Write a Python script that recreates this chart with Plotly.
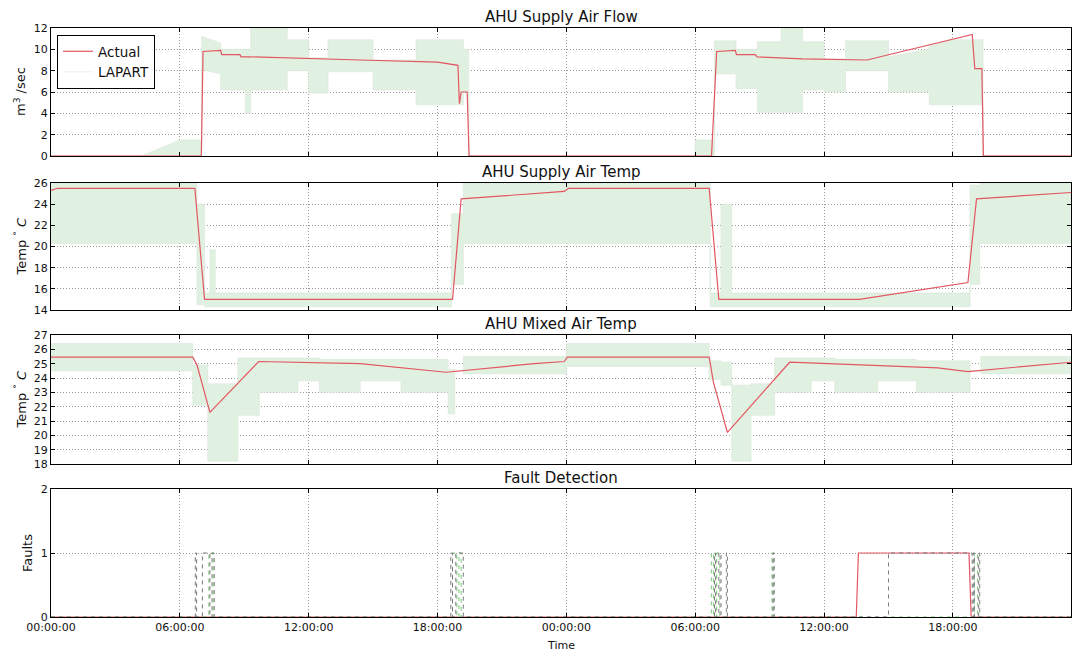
import plotly.graph_objects as go

# ---------------------------------------------------------------- data
# time in hours from the first midnight
x_end = 47.5
tick_hours = [0, 6, 12, 18, 24, 30, 36, 42]
tick_labels = ["00:00:00", "06:00:00", "12:00:00", "18:00:00",
               "00:00:00", "06:00:00", "12:00:00", "18:00:00"]

# AHU supply air flow (m3/sec)
flow_t = [0, 7.0, 7.08, 7.9, 7.95, 8.8, 8.85, 9.2, 14.4, 18.0, 18.95, 19.02, 19.1, 19.38, 19.47,
          30.76, 31.0, 31.87, 31.92, 32.8, 32.88, 33.9, 35.0, 38.0, 42.9, 43.02, 43.35, 43.42, 47.5]
flow_v = [0, 0, 9.8, 9.9, 9.5, 9.5, 9.3, 9.3, 9.0, 8.8, 8.5, 4.9, 6.0, 6.0, 0,
          0, 9.8, 9.9, 9.5, 9.5, 9.3, 9.2, 9.1, 9.0, 11.4, 8.2, 8.2, 0, 0]

# LAPART envelope for supply air flow
flow_band_t = [0, 4.2, 6.0, 7.02, 7.02, 7.9, 7.9, 9.05, 9.05, 9.3, 9.3, 11.0, 11.0, 12.0, 12.0,
               12.9, 12.9, 15.0, 15.0, 17.0, 17.0, 19.2, 19.2, 19.45, 19.45, 30.0, 30.0, 30.9,
               30.9, 31.9, 31.9, 32.9, 32.9, 34.0, 34.0, 35.0, 35.0, 36.0, 36.0, 37.0, 37.0,
               39.0, 39.0, 40.9, 40.9, 42.0, 43.4, 43.4, 47.5]
flow_band_lo = [0, 0, 0, 0, 8.1, 7.7, 6.2, 6.2, 4.0, 4.0, 6.2, 6.2, 8.0, 8.0, 5.9,
                5.9, 7.9, 7.9, 6.2, 6.2, 4.8, 4.8, 6.0, 6.0, 0, 0, 0, 0,
                7.7, 7.7, 6.3, 6.3, 4.1, 4.1, 4.1, 4.1, 6.2, 6.2, 6.0, 6.0, 8.0,
                8.0, 6.0, 6.0, 4.8, 4.8, 4.8, 0, 0]
flow_band_hi = [0, 0, 1.5, 1.5, 11.2, 10.6, 10.0, 10.0, 10.0, 10.0, 12.0, 12.0, 10.9, 10.9, 9.2,
                9.2, 10.9, 10.9, 9.0, 9.0, 10.9, 10.9, 10.0, 10.0, 0, 0, 1.5, 1.5,
                10.8, 10.8, 10.0, 10.0, 10.7, 10.7, 12.0, 12.0, 10.7, 10.7, 9.1, 9.1, 10.8,
                10.8, 9.3, 10.0, 10.3, 10.9, 10.9, 0, 0]

# AHU supply air temperature (deg C)
sat_t = [0, 0.3, 6.7, 7.15, 18.7, 19.1, 23.9, 24.1, 30.65, 31.1, 37.65, 42.7, 43.1, 47.5]
sat_v = [25.3, 25.5, 25.5, 15.0, 15.0, 24.5, 25.2, 25.5, 25.5, 15.0, 15.0, 16.6, 24.5, 25.1]

# LAPART envelope for supply air temperature, as piecewise-constant segments
sat_band_edges = [0, 6.8, 7.15, 7.4, 7.65, 18.65, 19.2, 30.7, 31.2, 31.7, 42.8, 43.25, 47.5]
sat_band_lo = [20.3, 14.5, 14.3, 14.3, 14.3, 16.4, 20.3, 14.3, 14.3, 14.3, 16.4, 20.3]
sat_band_hi = [26.0, 24.0, 15.6, 19.7, 15.6, 23.1, 26.0, 15.6, 24.0, 15.6, 25.8, 26.0]

# AHU mixed air temperature (deg C)
mat_t = [0, 6.6, 6.8, 7.4, 9.67, 12.0, 14.4, 18.4, 22.5, 23.9, 24.05,
         30.65, 30.85, 31.5, 34.4, 41.3, 42.7, 47.5]
mat_v = [25.45, 25.45, 24.9, 21.6, 25.15, 25.1, 25.0, 24.4, 25.0, 25.15, 25.45,
         25.45, 23.7, 20.2, 25.1, 24.7, 24.45, 25.1]

# LAPART envelope for mixed air temperature
mat_band_edges = [0, 6.6, 7.3, 8.7, 9.7, 11.5, 12.5, 14.4, 16.3, 18.5, 18.8, 19.2, 24.0,
                  30.65, 31.2, 31.7, 32.6, 33.7, 35.4, 36.5, 38.5, 40.3, 42.8, 43.3, 47.5]
mat_band_lo = [24.5, 22.1, 18.2, 21.4, 23.0, 23.8, 23.0, 23.8, 23.0, 21.5, 24.5, 24.3,
               24.8, 23.9, 23.5, 18.2, 21.4, 23.0, 23.8, 23.0, 23.8, 23.0, 24.5, 24.3]
mat_band_hi = [26.4, 24.9, 23.6, 25.4, 25.4, 25.4, 25.3, 25.3, 25.3, 24.6, 24.5, 25.5,
               26.4, 25.2, 25.1, 23.5, 23.6, 25.4, 25.4, 25.3, 25.3, 25.2, 24.5, 25.5]

# fault flags: actual fault signal and LAPART detections (start, end) in hours
fault_actual_t = [0, 37.5, 37.6, 42.75, 42.85, 47.5]
fault_actual_v = [0, 0, 1, 1, 0, 0]
fault_gray = [(6.72, 6.78), (7.05, 7.4), (7.5, 7.6), (18.62, 18.7), (18.85, 19.2),
              (30.9, 30.95), (31.1, 31.2), (31.45, 31.5), (33.62, 33.68),
              (39.0, 42.9), (42.95, 43.0), (43.2, 43.25)]
fault_green = [(7.35, 7.55), (18.7, 18.9), (19.0, 19.1), (30.75, 30.85), (31.0, 31.15),
               (33.58, 33.64), (43.0, 43.15)]

panel_titles = ["AHU Supply Air Flow", "AHU Supply Air Temp", "AHU Mixed Air Temp", "Fault Detection"]
y_titles = ["m<sup>3</sup> /sec", "Temp <sup>\u00b0</sup> <i>C</i>", "Temp <sup>\u00b0</sup> <i>C</i>", "Faults"]

# ---------------------------------------------------------------- helpers
W, H = 1073, 653
FONT = "DejaVu Sans"
RED = "rgb(226,86,98)"
BAND = "#e1f1e1"


def step_band(edges, lo, hi):
    xs, l, h = [], [], []
    for i in range(len(lo)):
        xs += [edges[i], edges[i + 1]]
        l += [lo[i], lo[i]]
        h += [hi[i], hi[i]]
    return xs, l, h


def pulses(windows, t_end):
    xs, ys = [0], [0]
    for s, e in windows:
        xs += [s, s, e, e]
        ys += [0, 1, 1, 0]
    xs.append(t_end)
    ys.append(0)
    return xs, ys


def add_band(fig, xs, lo, hi, xa, ya, legend=False):
    fig.add_trace(go.Scatter(x=xs, y=lo, mode="lines", xaxis=xa, yaxis=ya,
                             line=dict(color="#d6e6d6", width=0.6),
                             name="LAPART", showlegend=legend, legendrank=2,
                             hoverinfo="skip"))
    fig.add_trace(go.Scatter(x=xs, y=hi, mode="lines", xaxis=xa, yaxis=ya,
                             line=dict(color="#d6e6d6", width=0.6),
                             fill="tonexty", fillcolor=BAND,
                             showlegend=False, hoverinfo="skip"))


fig = go.Figure()

# panel 1
add_band(fig, flow_band_t, flow_band_lo, flow_band_hi, "x", "y", legend=True)
fig.add_trace(go.Scatter(x=flow_t, y=flow_v, mode="lines", name="Actual", legendrank=1,
                         line=dict(color=RED, width=1.2), xaxis="x", yaxis="y"))

# panel 2
xs, lo, hi = step_band(sat_band_edges, sat_band_lo, sat_band_hi)
add_band(fig, xs, lo, hi, "x2", "y2")
fig.add_trace(go.Scatter(x=sat_t, y=sat_v, mode="lines", showlegend=False,
                         line=dict(color=RED, width=1.2), xaxis="x2", yaxis="y2"))

# panel 3
xs, lo, hi = step_band(mat_band_edges, mat_band_lo, mat_band_hi)
add_band(fig, xs, lo, hi, "x3", "y3")
fig.add_trace(go.Scatter(x=mat_t, y=mat_v, mode="lines", showlegend=False,
                         line=dict(color=RED, width=1.2), xaxis="x3", yaxis="y3"))

# panel 4
fig.add_trace(go.Scatter(x=fault_actual_t, y=fault_actual_v, mode="lines", showlegend=False,
                         line=dict(color=RED, width=1.2), xaxis="x4", yaxis="y4"))
gx, gy = pulses(fault_green, x_end)
fig.add_trace(go.Scatter(x=gx, y=gy, mode="lines", showlegend=False,
                         line=dict(color="#7cc87c", width=1, dash="4px,4px"),
                         xaxis="x4", yaxis="y4"))
kx, ky = pulses(fault_gray, x_end)
fig.add_trace(go.Scatter(x=kx, y=ky, mode="lines", showlegend=False,
                         line=dict(color="#7a7a7a", width=1, dash="4px,4px"),
                         xaxis="x4", yaxis="y4"))

# ---------------------------------------------------------------- layout
panels_px = [(28, 156), (183, 310), (335, 464), (489, 617)]
y_ranges = [(0, 12, 2), (14, 26, 2), (18, 27, 1), (0, 2, 1)]
x_dom = [51 / W, 1071 / W]

axis_common = dict(showline=True, linecolor="black", linewidth=1, mirror="ticks",
                   ticks="inside", ticklen=4, tickcolor="black", automargin=False,
                   showgrid=True, gridcolor="#9a9a9a", griddash="1px,2px", gridwidth=1,
                   zeroline=False, tickfont=dict(family=FONT, size=11, color="#111"))

layout = dict(width=W, height=H, margin=dict(l=0, r=0, t=0, b=0, autoexpand=False),
              template="none",
              paper_bgcolor="white", plot_bgcolor="white",
              font=dict(family=FONT, color="#111"),
              legend=dict(x=57 / W, y=1 - 35 / H, xanchor="left", yanchor="top",
                          bgcolor="white", bordercolor="black", borderwidth=1,
                          font=dict(family=FONT, size=13.5), itemwidth=30,
                          traceorder="normal", tracegroupgap=0),
              annotations=[])

for i, ((top, bot), (y0, y1, dy)) in enumerate(zip(panels_px, y_ranges)):
    n = "" if i == 0 else str(i + 1)
    xa = dict(axis_common, domain=x_dom, range=[0, x_end], anchor="y" + n,
              tickvals=tick_hours, ticktext=tick_labels, showticklabels=(i == 3))
    if i > 0:
        xa["matches"] = "x"
    ya = dict(axis_common, domain=[1 - bot / H, 1 - top / H], range=[y0, y1],
              dtick=dy, tick0=y0, anchor="x" + n)
    layout["xaxis" + n] = xa
    layout["yaxis" + n] = ya
    layout["annotations"].append(dict(
        text=panel_titles[i], x=(x_dom[0] + x_dom[1]) / 2, y=1 - (top - 11) / H,
        xref="paper", yref="paper", showarrow=False, xanchor="center", yanchor="middle",
        font=dict(family=FONT, size=15, color="#111")))
    lx = 27 if i == 3 else 20
    layout["annotations"].append(dict(
        text=y_titles[i], x=lx / W, y=1 - (top + bot) / 2 / H, textangle=-90,
        xref="paper", yref="paper", showarrow=False, xanchor="center", yanchor="middle",
        font=dict(family=FONT, size=13, color="#111")))

layout["annotations"].append(dict(
    text="Time", x=(x_dom[0] + x_dom[1]) / 2, y=1 - 645 / H, xref="paper", yref="paper",
    showarrow=False, xanchor="center", yanchor="middle",
    font=dict(family=FONT, size=11, color="#111")))

fig.update_layout(**layout)
fig.write_html("out.html")
